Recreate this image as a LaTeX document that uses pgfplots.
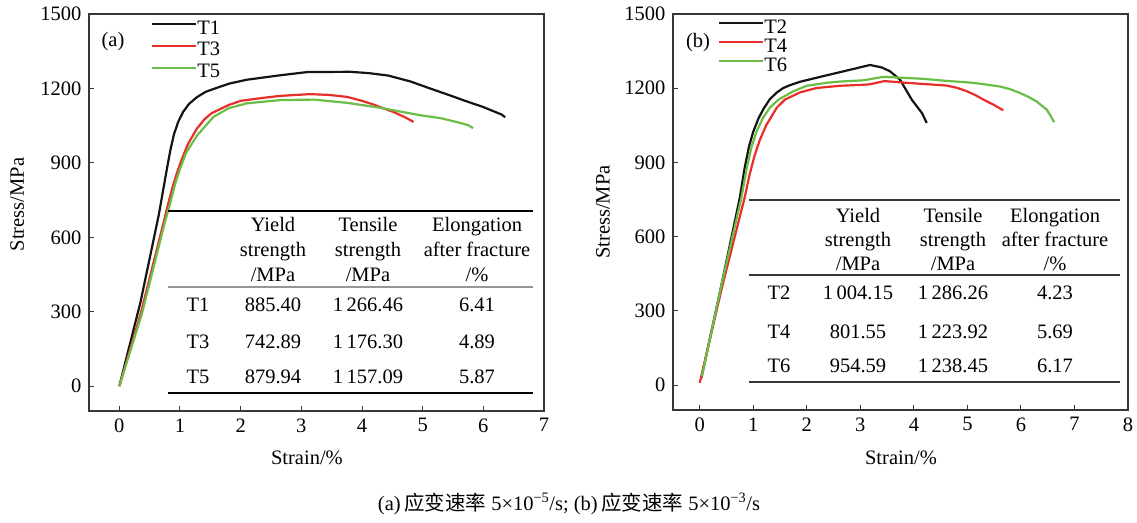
\documentclass[border=0pt]{standalone}
\usepackage{fontspec}
\setmainfont{Liberation Serif}
\newfontfamily\cjk{Noto Sans CJK SC}
\usepackage{pgfplots}
\pgfplotsset{compat=1.18}
\definecolor{cBlack}{RGB}{20,20,20}
\definecolor{cRed}{RGB}{232,46,40}
\definecolor{cGreen}{RGB}{108,189,69}
\definecolor{axgray}{RGB}{55,55,55}
\definecolor{rulegray}{RGB}{150,150,150}
\newcommand\fsz{\fontsize{20.5}{24}\selectfont}

\pgfplotsset{ssbase/.style={
    scale only axis,
    width=455pt,
    ymin=-100, ymax=1500,
    ytick={0,300,...,1500},
    axis line style={axgray, line width=1.1pt},
    tick style={axgray, line width=1pt},
    tick align=inside,
    major tick length=5pt,
    xtick pos=left, ytick pos=left,
    tick label style={font=\fsz},
    label style={font=\fsz},
    /pgf/number format/assume math mode=true,
    yticklabel style={/pgf/number format/1000 sep={}, xshift=-4pt},
    xticklabel style={yshift=-4pt},
    every axis plot/.append style={line width=2.2pt, line join=round},
    legend cell align=left,
    legend style={draw=none, fill=none, inner sep=0pt, row sep=0pt, font=\fsz,
        /tikz/every even column/.append style={column sep=3pt}},
    legend image code/.code={\draw[##1] (0pt,6.8pt) -- (44pt,6.8pt);},
}}

\begin{document}
\begin{tikzpicture}
\useasboundingbox (0,0) rectangle (1137pt,522pt);

% ---------- (a) strain rate 5e-5 ----------
\begin{axis}[ssbase,
    at={(89pt,111pt)}, anchor=south west,
    height=397pt,
    xmin=-0.5, xmax=7, xtick={0,1,...,7},
    xlabel={Strain/\%}, ylabel={Stress/MPa},
    xlabel style={at={(axis description cs:0.479,-0.118)}, anchor=center},
    ylabel style={at={(axis description cs:-0.158,0.52)}, anchor=center},
    legend style={at={(0.136,0.985)}, anchor=north west,
        nodes={inner sep=0pt, text height=14pt, text depth=7.7pt}},
]
\addplot[cBlack] coordinates {
 (0,0) (0.35,340) (0.65,690) (0.78,870) (0.84,950) (0.90,1015) (0.97,1065)
 (1.05,1105) (1.15,1138) (1.28,1165) (1.42,1186) (1.66,1207) (1.82,1220) (2.10,1235)
 (2.65,1253) (3.10,1266) (3.80,1267) (4.10,1262) (4.43,1252) (4.80,1228)
 (5.12,1200) (5.45,1172) (5.70,1150) (6.00,1125) (6.17,1108) (6.30,1095) (6.36,1084)
};
\addplot[cRed] coordinates {
 (0,0) (0.35,290) (0.72,650) (0.80,730) (0.88,805) (0.95,860) (1.03,915) (1.13,975) (1.27,1035)
 (1.40,1075) (1.52,1100) (1.80,1133) (2.00,1150) (2.37,1162) (2.65,1170)
 (3.14,1177) (3.45,1174) (3.75,1166) (4.00,1150) (4.19,1135) (4.35,1120)
 (4.52,1105) (4.70,1085) (4.85,1065)
};
\addplot[cGreen] coordinates {
 (0,0) (0.37,290) (0.75,660) (0.83,730) (0.92,815) (1.00,875) (1.10,940) (1.28,1010) (1.55,1085)
 (1.80,1120) (2.10,1140) (2.65,1153) (3.20,1155) (3.75,1142) (4.30,1122)
 (4.96,1092) (5.30,1080) (5.62,1061) (5.75,1052) (5.83,1040)
};
\legend{T1, T3, T5}
\end{axis}

% ---------- (b) strain rate 5e-3 ----------
\begin{axis}[ssbase,
    at={(673pt,112pt)}, anchor=south west,
    height=396pt,
    xmin=-0.5, xmax=8, xtick={0,1,...,8},
    xlabel={Strain/\%}, ylabel={Stress/MPa},
    xlabel style={at={(axis description cs:0.501,-0.12)}, anchor=center},
    ylabel style={at={(axis description cs:-0.154,0.5)}, anchor=center},
    legend style={at={(0.099,0.985)}, anchor=north west,
        nodes={inner sep=0pt, text height=13pt, text depth=6pt}},
]
\addplot[cBlack] coordinates {
 (0.03,30) (0.40,400) (0.75,760) (0.84,880) (0.92,965) (1.00,1025) (1.10,1080) (1.20,1120)
 (1.31,1156) (1.44,1183) (1.56,1201) (1.68,1212) (1.87,1226) (2.25,1246)
 (2.62,1265) (3.18,1294) (3.40,1284) (3.55,1269) (3.74,1235) (3.96,1154)
 (4.15,1100) (4.24,1060)
};
\addplot[cRed] coordinates {
 (0,10) (0.42,400) (0.84,760) (0.93,850) (1.02,925) (1.12,990) (1.24,1050) (1.44,1122)
 (1.59,1154) (1.87,1183) (2.18,1201) (2.62,1210) (3.05,1214) (3.18,1216)
 (3.45,1229) (3.86,1222) (4.61,1211) (4.80,1202) (4.99,1188) (5.15,1172)
 (5.30,1154) (5.50,1132) (5.67,1111)
};
\addplot[cGreen] coordinates {
 (0.04,36) (0.40,400) (0.78,760) (0.88,880) (0.97,965) (1.06,1025) (1.18,1080) (1.31,1122)
 (1.47,1154) (1.75,1188) (2.00,1210) (2.37,1222) (2.62,1227) (3.05,1232)
 (3.43,1246) (4.18,1238) (4.60,1230) (5.11,1222) (5.61,1207) (5.80,1196)
 (5.98,1181) (6.15,1164) (6.29,1147) (6.48,1114) (6.55,1090) (6.62,1063)
};
\legend{T2, T4, T6}
\end{axis}

% panel tags
\node[font=\fsz] at (113pt,480pt) {(a)};
\node[font=\fsz] at (698pt,479pt) {(b)};

% ---------- table (a) ----------
\draw[black, line width=1.6pt] (168pt,311pt) -- (533pt,311pt);
\draw[rulegray, line width=1.6pt] (168pt,235pt) -- (533pt,235pt);
\draw[black, line width=1.8pt] (168pt,129pt) -- (533pt,129pt);
\begin{scope}[every node/.style={font=\fsz, anchor=base, inner sep=0pt}]
\node at (273pt,290pt) {Yield};
\node at (273pt,265pt) {strength};
\node at (273pt,240pt) {/MPa};
\node at (368pt,290pt) {Tensile};
\node at (368pt,265pt) {strength};
\node at (368pt,240pt) {/MPa};
\node at (477pt,290pt) {Elongation};
\node at (477pt,265pt) {after fracture};
\node at (477pt,240pt) {/\%};
\node at (198pt,210pt) {T1}; \node at (273pt,210pt) {885.40}; \node at (368pt,210pt) {1\,266.46}; \node at (477pt,210pt) {6.41};
\node at (198pt,173pt) {T3}; \node at (273pt,173pt) {742.89}; \node at (368pt,173pt) {1\,176.30}; \node at (477pt,173pt) {4.89};
\node at (198pt,138pt) {T5}; \node at (273pt,138pt) {879.94}; \node at (368pt,138pt) {1\,157.09}; \node at (477pt,138pt) {5.87};
\end{scope}

% ---------- table (b) ----------
\draw[axgray, line width=2pt] (749pt,322pt) -- (1120pt,322pt);
\draw[axgray, line width=2pt] (749pt,247pt) -- (1120pt,247pt);
\draw[axgray, line width=2pt] (749pt,140pt) -- (1120pt,140pt);
\begin{scope}[every node/.style={font=\fsz, anchor=base, inner sep=0pt}]
\node at (858pt,299pt) {Yield};
\node at (858pt,275pt) {strength};
\node at (858pt,251pt) {/MPa};
\node at (953pt,299pt) {Tensile};
\node at (953pt,275pt) {strength};
\node at (953pt,251pt) {/MPa};
\node at (1055pt,299pt) {Elongation};
\node at (1055pt,275pt) {after fracture};
\node at (1055pt,251pt) {/\%};
\node at (779pt,222pt) {T2}; \node at (858pt,222pt) {1\,004.15}; \node at (953pt,222pt) {1\,286.26}; \node at (1055pt,222pt) {4.23};
\node at (779pt,183pt) {T4}; \node at (858pt,183pt) {801.55}; \node at (953pt,183pt) {1\,223.92}; \node at (1055pt,183pt) {5.69};
\node at (779pt,149pt) {T6}; \node at (858pt,149pt) {954.59}; \node at (953pt,149pt) {1\,238.45}; \node at (1055pt,149pt) {6.17};
\end{scope}

% caption
\node[font=\fontsize{20.5}{24}\selectfont, anchor=center] at (569pt,18pt)
  {(a)\,{\cjk 应变速率} 5×10\textsuperscript{−5}/s; (b)\,{\cjk 应变速率} 5×10\textsuperscript{−3}/s};
\end{tikzpicture}
\end{document}
